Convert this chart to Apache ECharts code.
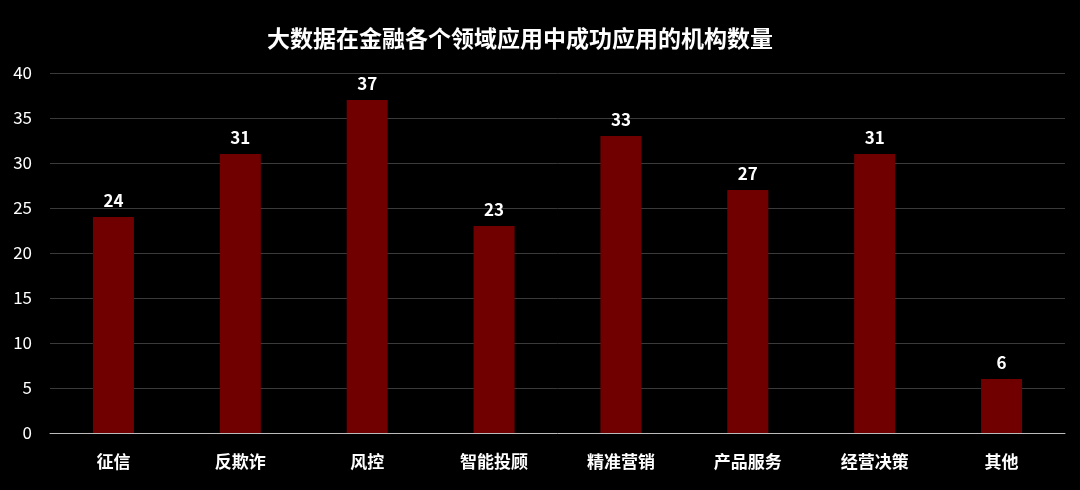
<!DOCTYPE html>
<html><head><meta charset="utf-8">
<script src="https://cdn.jsdelivr.net/npm/echarts@6/dist/echarts.min.js"></script>
<style>html,body{margin:0;background:#000}#c{width:1080px;height:490px}</style>
</head><body><div id="c"></div>
<script>
const categories=['征信','反欺诈','风控','智能投顾','精准营销','产品服务','经营决策','其他'];
const values=[24,31,37,23,33,27,31,6];
const chart=echarts.init(document.getElementById('c'));
chart.setOption({
  backgroundColor:'#000',
  title:{text:'大数据在金融各个领域应用中成功应用的机构数量',left:515,top:22,textAlign:'center',
    textStyle:{color:'#fff',fontSize:23,fontWeight:'bold',fontFamily:'Noto Sans CJK SC'}},
  grid:{left:50,right:15,top:73,bottom:57},
  xAxis:{type:'category',data:categories,
    axisLine:{lineStyle:{color:'#bbb'}},axisTick:{show:false},
    axisLabel:{color:'#fff',fontSize:17,fontWeight:'bold',margin:20,fontFamily:'Noto Sans CJK SC'}},
  yAxis:{type:'value',min:0,max:40,interval:5,
    axisLabel:{color:'#fff',fontSize:17,margin:18,fontFamily:'Noto Sans CJK SC'},
    splitLine:{lineStyle:{color:'#3a3a3a'}}},
  series:[{type:'bar',data:values,barWidth:41,
    itemStyle:{color:'#700000'},
    label:{show:true,position:'top',color:'#fff',fontSize:17,fontWeight:'bold',distance:8,fontFamily:'Noto Sans CJK SC'}}]
});
</script></body></html>
